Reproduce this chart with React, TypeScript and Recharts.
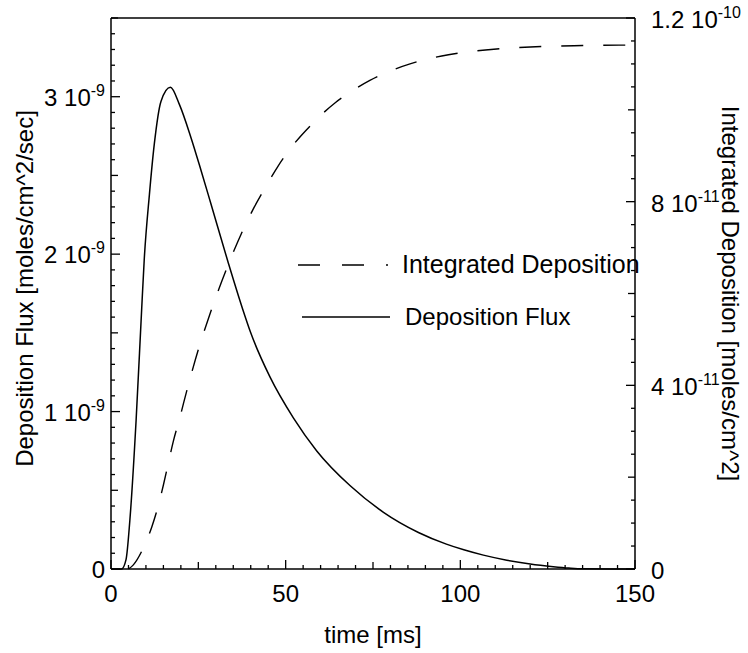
import React from 'react';
import { LineChart, Line, XAxis, YAxis, Legend } from 'recharts';

// time [ms] vs deposition flux [moles/cm^2/sec]
const fluxTime = [0, 3, 4.3, 5.4, 7.2, 8.8, 9.5, 11, 12.4, 14.3, 17, 19.6, 22.9, 25.8, 28.6, 33.5, 37.7, 40, 45.5, 52.2, 58.9, 68.4, 78, 88, 96, 101, 106.6, 113.3, 120, 126.6, 131, 135, 150];
const fluxValue = [0, 0, 0.06e-9, 0.31e-9, 0.95e-9, 1.66e-9, 1.96e-9, 2.38e-9, 2.7e-9, 2.97e-9, 3.06e-9, 2.95e-9, 2.74e-9, 2.53e-9, 2.32e-9, 1.95e-9, 1.65e-9, 1.5e-9, 1.22e-9, 0.96e-9, 0.75e-9, 0.53e-9, 0.36e-9, 0.232e-9, 0.158e-9, 0.122e-9, 0.088e-9, 0.056e-9, 0.032e-9, 0.015e-9, 0.006e-9, 0.001e-9, 0];

// time [ms] vs integrated deposition [moles/cm^2]; nothing deposited before 5 ms
const intTime = [5, 6.4, 9.2, 11.7, 13.5, 15, 16.4, 17.8, 19.5, 22, 25, 28.4, 30.5, 32.9, 34.8, 37.7, 41, 44.4, 47.7, 52, 57.4, 64.1, 68.4, 74.1, 79.4, 85.6, 90.8, 96.6, 102.8, 108, 120, 135, 150];
const intValue = [0, 0.09e-11, 0.45e-11, 0.92e-11, 1.37e-11, 1.83e-11, 2.3e-11, 2.77e-11, 3.24e-11, 3.97e-11, 4.78e-11, 5.57e-11, 6.02e-11, 6.5e-11, 6.86e-11, 7.37e-11, 7.88e-11, 8.34e-11, 8.76e-11, 9.22e-11, 9.68e-11, 10.15e-11, 10.38e-11, 10.64e-11, 10.83e-11, 11.0e-11, 11.11e-11, 11.2e-11, 11.27e-11, 11.31e-11, 11.37e-11, 11.4e-11, 11.41e-11];

// labelled ticks
const timeTicks = [0, 50, 100, 150];
const fluxTicks = [0, 1e-9, 2e-9, 3e-9];
const fluxTickText = ['0', '1 10', '2 10', '3 10'];
const fluxTickExp = ['', '-9', '-9', '-9'];
const intTicks = [0, 4e-11, 8e-11, 1.2e-10];
const intTickText = ['0', '4 10', '8 10', '1.2 10'];
const intTickExp = ['', '-11', '-11', '-10'];

const fluxData = fluxTime.map((t, i) => ({ t, flux: fluxValue[i] }));
const intData = intTime.map((t, i) => ({ t, integ: intValue[i] }));

// minor tick positions
const timeMinor = Array.from({ length: 31 }, (_, i) => i * 5);
const fluxMinor = Array.from({ length: 36 }, (_, i) => i * 1e-10);
const intMinor = Array.from({ length: 25 }, (_, i) => i * 5e-12);

const W = 748;
const H = 653;
// axes are 1px thick, so the plot box is 111..635 x 18..569
const M = { top: 17, right: 112, bottom: 83, left: 110 };
const PLOT_L = 111;
const PLOT_R = 635;
const PLOT_T = 18;
const PLOT_B = 569;
const FONT = '"Liberation Sans", Arial, Helvetica, sans-serif';
const FS = 24;
const SUP = 16;
const DASH = '22 20';

const idxOf = (arr: number[], v: number) => arr.findIndex((a) => Math.abs(a - v) < Math.abs(a) * 1e-6 + 1e-20);

const BottomTick = (props: any) => {
  const { x, y, payload } = props;
  const v = Math.round(payload.value);
  const len = v % 50 === 0 ? 9 : v % 25 === 0 ? 7 : 4;
  const i = idxOf(timeTicks, v);
  return (
    <g>
      <line x1={x} x2={x} y1={y} y2={y - len} stroke="#000" strokeWidth={1.3} />
      {i >= 0 && (
        <text x={x} y={y + 33} textAnchor="middle" fontFamily={FONT} fontSize={FS} fill="#000">
          {v}
        </text>
      )}
    </g>
  );
};

const TopTick = (props: any) => {
  const { x, y, payload } = props;
  const v = Math.round(payload.value);
  const len = v % 50 === 0 ? 9 : v % 25 === 0 ? 7 : 4;
  return <line x1={x} x2={x} y1={y} y2={y + len} stroke="#000" strokeWidth={1.3} />;
};

const LeftTick = (props: any) => {
  const { x, y, payload } = props;
  const k = Math.round(payload.value / 1e-10);
  const len = k % 10 === 0 ? 9 : k % 5 === 0 ? 7 : 4;
  const i = idxOf(fluxTicks, payload.value);
  return (
    <g>
      <line x1={x} x2={x + len} y1={y} y2={y} stroke="#000" strokeWidth={1.3} />
      {i >= 0 && (
        <text x={x - 6} y={y + 9} textAnchor="end" fontFamily={FONT} fontSize={FS} fill="#000">
          {fluxTickText[i]}
          {fluxTickExp[i] && (
            <tspan dy={-10} fontSize={SUP}>
              {fluxTickExp[i]}
            </tspan>
          )}
        </text>
      )}
    </g>
  );
};

const RightTick = (props: any) => {
  const { x, y, payload } = props;
  const k = Math.round(payload.value / 5e-12);
  const len = k % 8 === 0 ? 9 : k % 4 === 0 ? 7 : 4;
  const i = idxOf(intTicks, payload.value);
  return (
    <g>
      <line x1={x} x2={x - len} y1={y} y2={y} stroke="#000" strokeWidth={1.3} />
      {i >= 0 && (
        <text x={x + 16} y={y + 10} textAnchor="start" fontFamily={FONT} fontSize={FS} fill="#000">
          {intTickText[i]}
          {intTickExp[i] && (
            <tspan dy={-10} fontSize={SUP}>
              {intTickExp[i]}
            </tspan>
          )}
        </text>
      )}
    </g>
  );
};

const LegendBox = () => (
  <svg width={340} height={90} style={{ overflow: 'visible' }}>
    <line x1={2} x2={92} y1={20} y2={20} stroke="#000" strokeWidth={1.4} strokeDasharray="22 22 22 22 4" />
    <text x={106} y={28} fontFamily={FONT} fontSize={25} fill="#000">
      Integrated Deposition
    </text>
    <line x1={6} x2={94} y1={72} y2={72} stroke="#000" strokeWidth={1.4} />
    <text x={109} y={80} fontFamily={FONT} fontSize={FS} fill="#000">
      Deposition Flux
    </text>
  </svg>
);

const axisStroke = { stroke: '#000', strokeWidth: 1.5 };

export default function App() {
  const midY = (PLOT_T + PLOT_B) / 2;
  return (
    <div style={{ position: 'absolute', left: 0, top: 0, background: '#fff' }}>
      <LineChart width={W} height={H} margin={M}>
        <XAxis
          xAxisId="b"
          dataKey="t"
          type="number"
          domain={[0, 150]}
          ticks={timeMinor}
          interval={0}
          height={1}
          tickSize={0}
          tickMargin={0}
          tickLine={false}
          tick={<BottomTick />}
          axisLine={axisStroke}
        />
        <XAxis
          xAxisId="t"
          orientation="top"
          type="number"
          domain={[0, 150]}
          ticks={timeMinor}
          interval={0}
          height={1}
          tickSize={0}
          tickMargin={0}
          tickLine={false}
          tick={<TopTick />}
          axisLine={axisStroke}
        />
        <YAxis
          yAxisId="flux"
          type="number"
          domain={[0, 3.5e-9]}
          ticks={fluxMinor}
          interval={0}
          width={1}
          tickSize={0}
          tickMargin={0}
          tickLine={false}
          tick={<LeftTick />}
          axisLine={axisStroke}
        />
        <YAxis
          yAxisId="int"
          orientation="right"
          type="number"
          domain={[0, 1.2e-10]}
          ticks={intMinor}
          interval={0}
          width={1}
          tickSize={0}
          tickMargin={0}
          tickLine={false}
          tick={<RightTick />}
          axisLine={axisStroke}
        />
        <Line
          xAxisId="b"
          yAxisId="int"
          data={intData}
          dataKey="integ"
          type="monotone"
          stroke="#000"
          strokeWidth={1.4}
          strokeDasharray={DASH}
          dot={false}
          isAnimationActive={false}
        />
        <Line
          xAxisId="b"
          yAxisId="flux"
          data={fluxData}
          dataKey="flux"
          type="monotone"
          stroke="#000"
          strokeWidth={1.5}
          dot={false}
          isAnimationActive={false}
        />
        <Legend
          layout="vertical"
          align="center"
          verticalAlign="middle"
          content={() => <LegendBox />}
          wrapperStyle={{ position: 'absolute', left: 296, top: 245, width: 340 }}
        />
        <text
          x={(PLOT_L + PLOT_R) / 2}
          y={643}
          textAnchor="middle"
          fontFamily={FONT}
          fontSize={FS}
          fill="#000"
        >
          time [ms]
        </text>
        <text
          transform={`translate(33, ${midY - 5}) rotate(-90)`}
          textAnchor="middle"
          fontFamily={FONT}
          fontSize={FS}
          fill="#000"
        >
          Deposition Flux [moles/cm^2/sec]
        </text>
        <text
          transform={`translate(722, ${midY}) rotate(90)`}
          textAnchor="middle"
          fontFamily={FONT}
          fontSize={FS}
          fill="#000"
        >
          Integrated Deposition [moles/cm^2]
        </text>
      </LineChart>
    </div>
  );
}
